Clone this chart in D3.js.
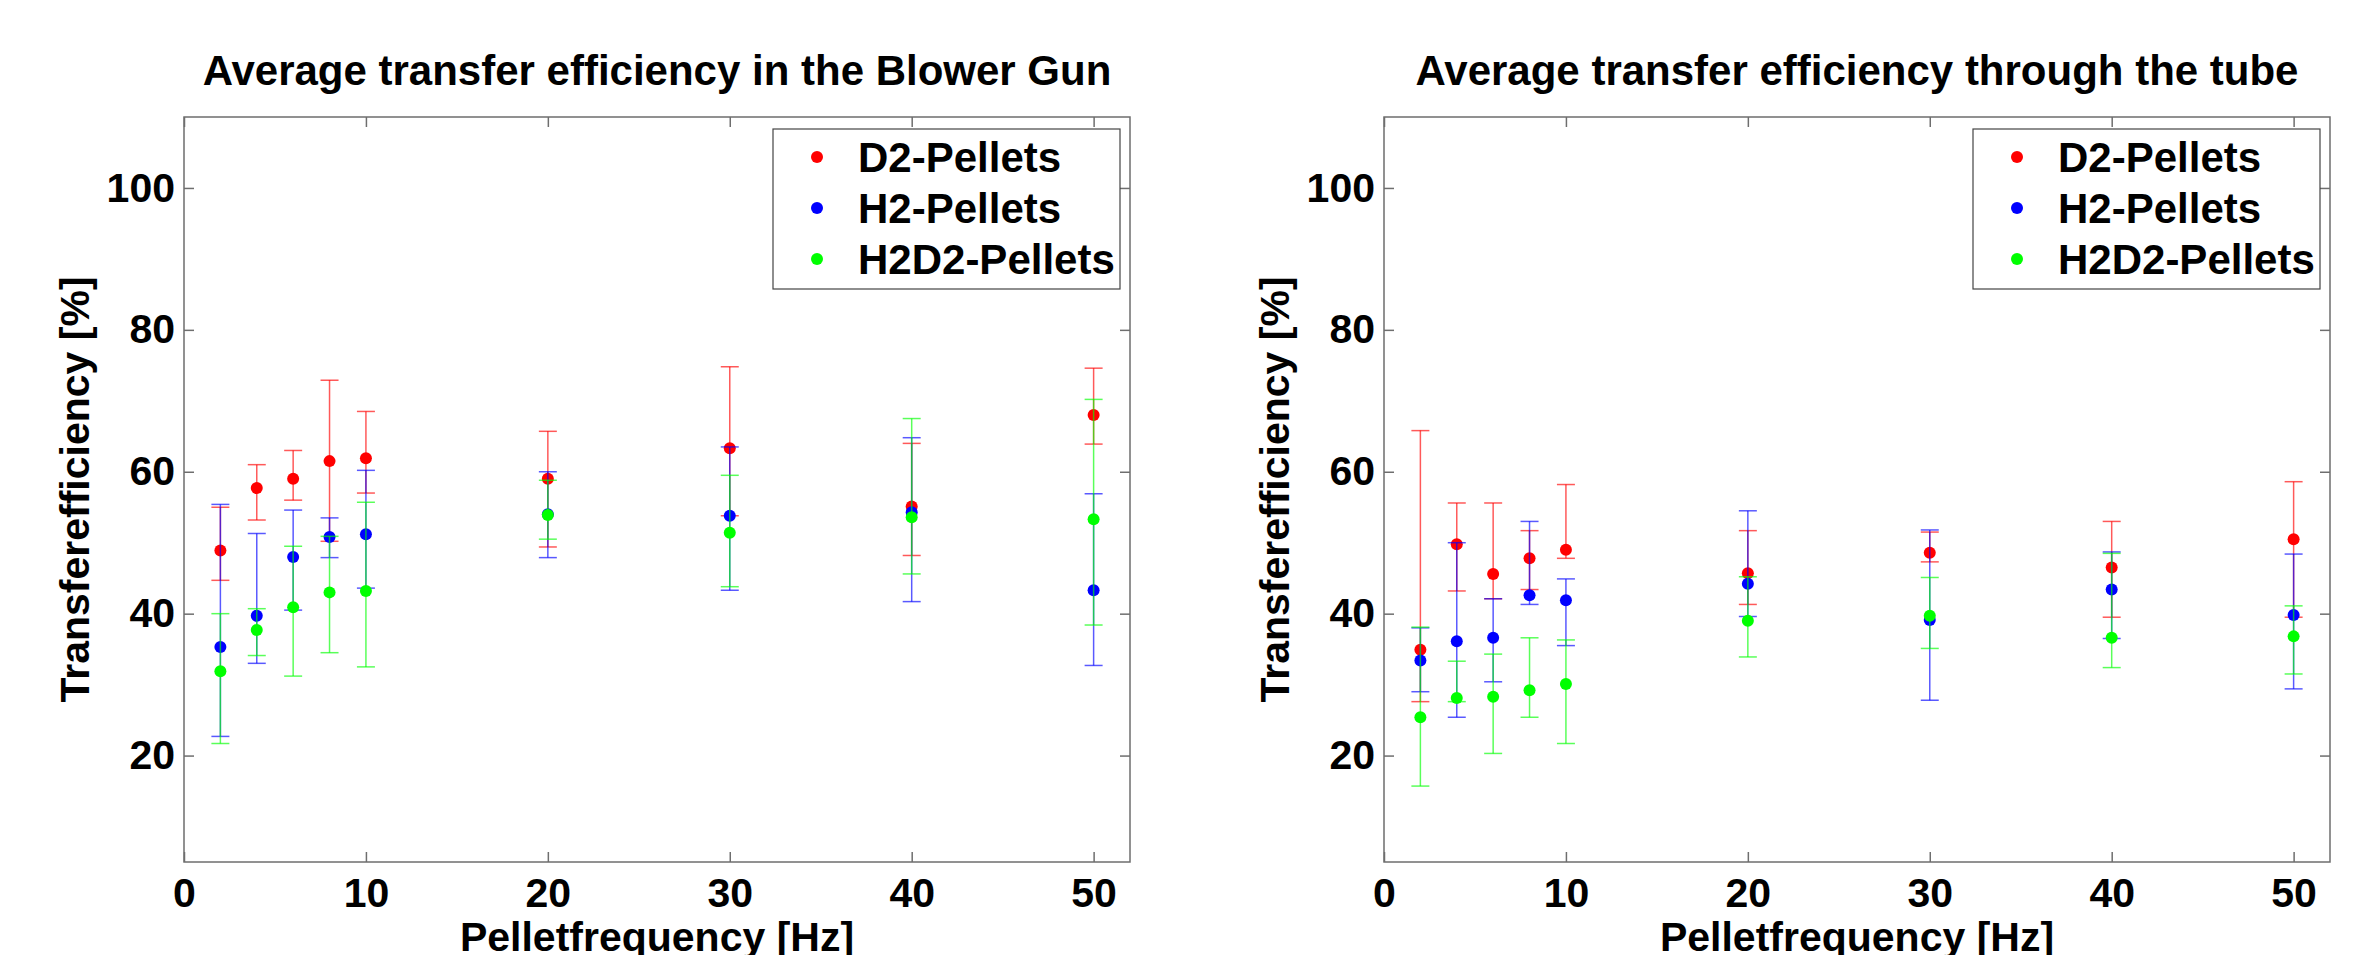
<!DOCTYPE html>
<html>
<head>
<meta charset="utf-8">
<script src="https://cdn.jsdelivr.net/npm/d3@7"></script>
<style>
  body { margin: 0; background: #fff; }
  text { font-family: "Liberation Sans", Arial, sans-serif; font-weight: bold; fill: #000; }
</style>
</head>
<body>
<div id="container"></div>
<script>
/* DATA */
const freq = [2, 4, 6, 8, 10, 20, 30, 40, 50];
const seriesNames = ["D2-Pellets", "H2-Pellets", "H2D2-Pellets"];
const seriesColors = ["#ff0000", "#0000ff", "#00ff00"];
const xTicks = [0, 10, 20, 30, 40, 50];
const yTicks = [20, 40, 60, 80, 100];

// blower gun
const gunD2 = [48.9, 57.7, 59.0, 61.5, 61.9, 59.0, 63.3, 55.1, 68.0];
const gunD2Low = [44.7, 53.2, 56.0, 50.2, 57.0, 49.4, 53.8, 48.2, 63.9];
const gunD2High = [55.0, 61.0, 63.0, 72.9, 68.5, 65.7, 74.8, 64.0, 74.6];
const gunH2 = [35.3, 39.7, 48.0, 50.8, 51.2, 54.0, 53.8, 54.3, 43.3];
const gunH2Low = [22.7, 33.0, 40.5, 47.9, 43.6, 47.9, 43.3, 41.7, 32.7];
const gunH2High = [55.4, 51.3, 54.6, 53.5, 60.2, 60.0, 63.5, 64.8, 56.9];
const gunH2D2 = [31.9, 37.7, 40.9, 43.0, 43.2, 53.9, 51.4, 53.6, 53.3];
const gunH2D2Low = [21.7, 34.1, 31.2, 34.5, 32.5, 50.5, 43.8, 45.6, 38.4];
const gunH2D2High = [40.0, 40.7, 49.5, 50.9, 55.7, 58.8, 59.5, 67.5, 70.2];

// through the tube
const tubeD2 = [34.9, 49.8, 45.6, 47.8, 49.0, 45.7, 48.6, 46.5, 50.5];
const tubeD2Low = [27.6, 43.2, 42.1, 43.4, 47.8, 41.3, 47.3, 39.5, 39.5];
const tubeD2High = [65.8, 55.6, 55.6, 51.7, 58.2, 51.7, 51.5, 53.0, 58.6];
const tubeH2 = [33.4, 36.1, 36.6, 42.6, 41.9, 44.2, 39.1, 43.4, 39.8];
const tubeH2Low = [29.0, 25.4, 30.4, 41.3, 35.5, 39.6, 27.8, 36.5, 29.4];
const tubeH2High = [38.0, 50.0, 42.1, 53.0, 44.9, 54.5, 51.8, 48.7, 48.4];
const tubeH2D2 = [25.4, 28.1, 28.3, 29.2, 30.1, 39.0, 39.7, 36.6, 36.8];
const tubeH2D2Low = [15.7, 27.6, 20.3, 25.4, 21.7, 33.9, 35.1, 32.4, 31.5];
const tubeH2D2High = [38.1, 33.3, 34.3, 36.6, 36.3, 45.2, 45.1, 48.5, 41.1];

/* CONSTANTS */
const width = 2354, height = 955;
const plotW = 946, plotH = 745, plotTop = 117;
const fontSize = 41, titleSize = 42;
const axisColor = "#6e6e6e";

const svg = d3.select("#container")
  .append("svg")
  .attr("width", width)
  .attr("height", height);

function drawPanel(left, title, series) {
  const xScale = d3.scaleLinear().domain([0, 52]).range([left, left + plotW]);
  const yScale = d3.scaleLinear().domain([5, 110]).range([plotTop + plotH, plotTop]);
  const g = svg.append("g");

  // box
  g.append("rect")
    .attr("x", left).attr("y", plotTop)
    .attr("width", plotW).attr("height", plotH)
    .attr("fill", "none")
    .attr("stroke", axisColor)
    .attr("stroke-width", 1.5);

  // axes, ticks point inward
  const axes = [
    [d3.axisBottom(xScale).tickValues(xTicks).tickPadding(16), `translate(0,${plotTop + plotH})`],
    [d3.axisTop(xScale).tickValues(xTicks).tickFormat(""), `translate(0,${plotTop})`],
    [d3.axisLeft(yScale).tickValues(yTicks).tickPadding(9), `translate(${left},0)`],
    [d3.axisRight(yScale).tickValues(yTicks).tickFormat(""), `translate(${left + plotW},0)`]
  ];
  axes.forEach(([ax, tr]) => {
    const a = g.append("g")
      .attr("transform", tr)
      .call(ax.tickSizeInner(-10).tickSizeOuter(0));
    a.select(".domain").remove();
    a.selectAll("line").attr("stroke", axisColor).attr("stroke-width", 1.5);
    a.selectAll("text")
      .style("font-size", fontSize + "px")
      .style("font-family", "'Liberation Sans', Arial, sans-serif")
      .style("font-weight", "bold")
      .attr("fill", "#000");
  });

  // title and axis labels
  g.append("text")
    .attr("x", left + plotW / 2)
    .attr("y", 85)
    .attr("text-anchor", "middle")
    .style("font-size", titleSize + "px")
    .text(title);

  g.append("text")
    .attr("x", left + plotW / 2)
    .attr("y", 951)
    .attr("text-anchor", "middle")
    .style("font-size", fontSize + "px")
    .text("Pelletfrequency [Hz]");

  g.append("text")
    .attr("transform", `translate(${left - 95},${plotTop + plotH / 2}) rotate(-90)`)
    .attr("text-anchor", "middle")
    .style("font-size", fontSize + "px")
    .text("Transferefficiency [%]");

  // error bars and points, series drawn in order red, blue, green
  series.forEach((s, si) => {
    const color = seriesColors[si];
    const rows = freq.map((f, i) => ({ f, m: s.mean[i], lo: s.low[i], hi: s.high[i] }));
    const eb = g.append("g")
      .attr("stroke", color)
      .attr("stroke-width", 1.5)
      .attr("stroke-opacity", 0.65);
    eb.selectAll(".stem").data(rows).join("line")
      .attr("x1", d => xScale(d.f)).attr("x2", d => xScale(d.f))
      .attr("y1", d => yScale(d.lo)).attr("y2", d => yScale(d.hi));
    eb.selectAll(".capHi").data(rows).join("line")
      .attr("x1", d => xScale(d.f) - 9).attr("x2", d => xScale(d.f) + 9)
      .attr("y1", d => yScale(d.hi)).attr("y2", d => yScale(d.hi));
    eb.selectAll(".capLo").data(rows).join("line")
      .attr("x1", d => xScale(d.f) - 9).attr("x2", d => xScale(d.f) + 9)
      .attr("y1", d => yScale(d.lo)).attr("y2", d => yScale(d.lo));
    g.append("g").selectAll("circle").data(rows).join("circle")
      .attr("cx", d => xScale(d.f))
      .attr("cy", d => yScale(d.m))
      .attr("r", 6)
      .attr("fill", color);
  });

  // legend
  const lx = left + plotW - 10 - 347, ly = plotTop + 12;
  g.append("rect")
    .attr("x", lx).attr("y", ly)
    .attr("width", 347).attr("height", 160)
    .attr("fill", "#fff")
    .attr("stroke", "#444")
    .attr("stroke-width", 1.2);
  seriesNames.forEach((name, i) => {
    const cy = ly + 28 + i * 51;
    g.append("circle")
      .attr("cx", lx + 44).attr("cy", cy)
      .attr("r", 6)
      .attr("fill", seriesColors[i]);
    g.append("text")
      .attr("x", lx + 85).attr("y", cy + 15)
      .style("font-size", titleSize + "px")
      .text(name);
  });
}

drawPanel(184, "Average transfer efficiency in the Blower Gun", [
  { mean: gunD2, low: gunD2Low, high: gunD2High },
  { mean: gunH2, low: gunH2Low, high: gunH2High },
  { mean: gunH2D2, low: gunH2D2Low, high: gunH2D2High }
]);

drawPanel(1384, "Average transfer efficiency through the tube", [
  { mean: tubeD2, low: tubeD2Low, high: tubeD2High },
  { mean: tubeH2, low: tubeH2Low, high: tubeH2High },
  { mean: tubeH2D2, low: tubeH2D2Low, high: tubeH2D2High }
]);
</script>
</body>
</html>
